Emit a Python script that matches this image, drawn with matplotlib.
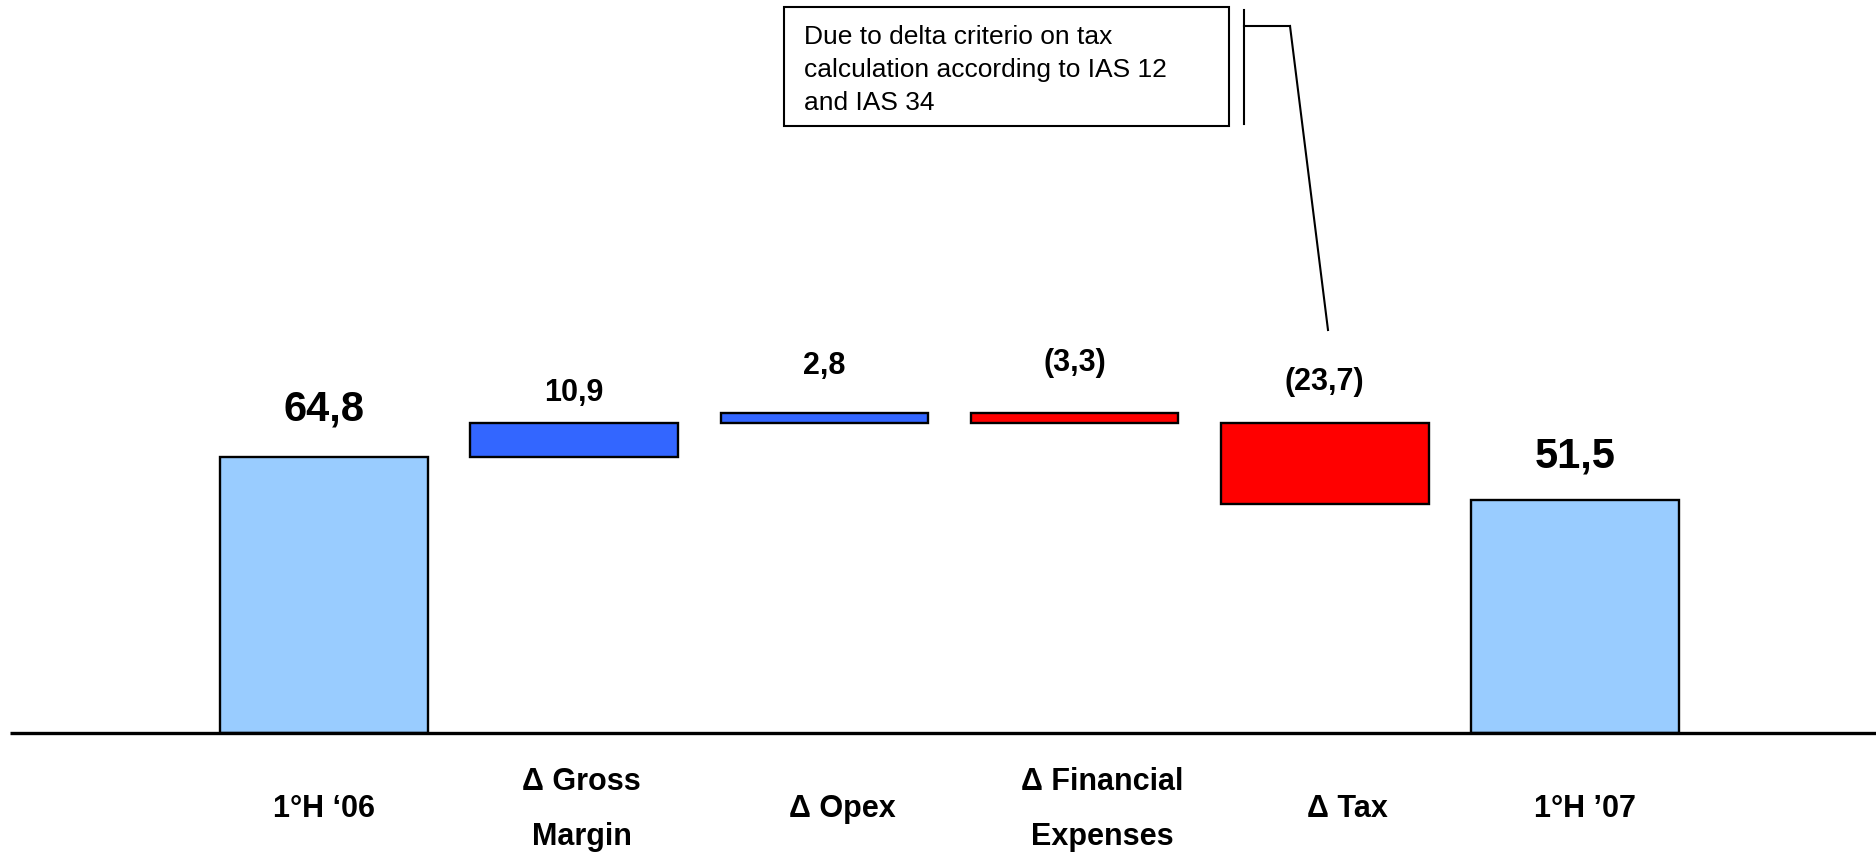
import matplotlib
matplotlib.use("Agg")
import matplotlib.pyplot as plt
from matplotlib.patches import Rectangle
from matplotlib.lines import Line2D
import numpy as np

plt.rcParams['font.family'] = ['Liberation Sans', 'DejaVu Sans']

# Data (bar sizes as drawn in the chart, labels as printed)
categories = ["1°H \u201806", "\u0394 Gross\nMargin", "\u0394 Opex",
              "\u0394 Financial\nExpenses", "\u0394 Tax", "1°H \u201907"]
value_labels = ["64,8", "10,9", "2,8", "(3,3)", "(23,7)", "51,5"]
start_value = 64.8
drawn_steps = [7.9, 2.4, -2.4, -19.0]
end_value = 54.7
note = "Due to delta criterio on tax\ncalculation according to IAS 12\nand IAS 34"

# Waterfall geometry
levels = start_value + np.cumsum([0] + drawn_steps)
bottoms = [0] + [min(levels[i], levels[i + 1]) for i in range(len(drawn_steps))] + [0]
heights = [start_value] + [abs(s) for s in drawn_steps] + [end_value]
tops = [b + h for b, h in zip(bottoms, heights)]
colors = ["#99CCFF"] + ["#3366FF" if s > 0 else "#FF0000" for s in drawn_steps] + ["#99CCFF"]

W, H = 1876, 855
fig = plt.figure(figsize=(W / 100, H / 100), dpi=100)
ax = fig.add_axes([0, 0, 1, 1])
ax.set_xlim(-1.295, 6.203)
ax.set_ylim(-28.64, 172.07)
ax.axis("off")

x = np.arange(len(categories))
ax.bar(x, heights, bottom=bottoms, width=0.83, color=colors,
       edgecolor="black", linewidth=1.7, zorder=2)

# Baseline
ax.hlines(0, -1.255, 6.3, color="black", linewidth=2.4, zorder=3)

# Value labels
label_sizes = [30, 22, 22, 22, 22, 30]
label_offsets = [34, 22, 34, 36, 30, 31]
for xi, top, txt, fs, off in zip(x, tops, value_labels, label_sizes, label_offsets):
    ax.annotate(txt, (xi, top), xytext=(0, off), textcoords="offset points",
                ha="center", va="center", fontsize=fs, fontweight="bold")

# Category labels
cat_shift = [0, 0.03, 0.07, 0.11, 0.09, 0.04]
for xi, cat, sh in zip(x, categories, cat_shift):
    ax.text(xi + sh, -17.9, cat, ha="center", va="center", fontsize=22,
            fontweight="bold", linespacing=2.1)

# Callout box and leader line (figure pixel positions)
def px(xp, yp):
    return xp / W, 1 - yp / H

fig.add_artist(Rectangle(px(784, 126), 445 / W, 119 / H, transform=fig.transFigure,
                         facecolor="white", edgecolor="black", linewidth=1.5))
fig.text(*px(804, 70), note, ha="left", va="center", fontsize=19, linespacing=1.5)

for (x0, y0), (x1, y1) in [((1244, 10), (1244, 124)),
                           ((1244, 26), (1290, 26)),
                           ((1290, 26), (1328, 330))]:
    (fx0, fy0), (fx1, fy1) = px(x0, y0), px(x1, y1)
    fig.add_artist(Line2D([fx0, fx1], [fy0, fy1], transform=fig.transFigure,
                          color="black", linewidth=1.5))

plt.savefig("out.png", dpi=100)
